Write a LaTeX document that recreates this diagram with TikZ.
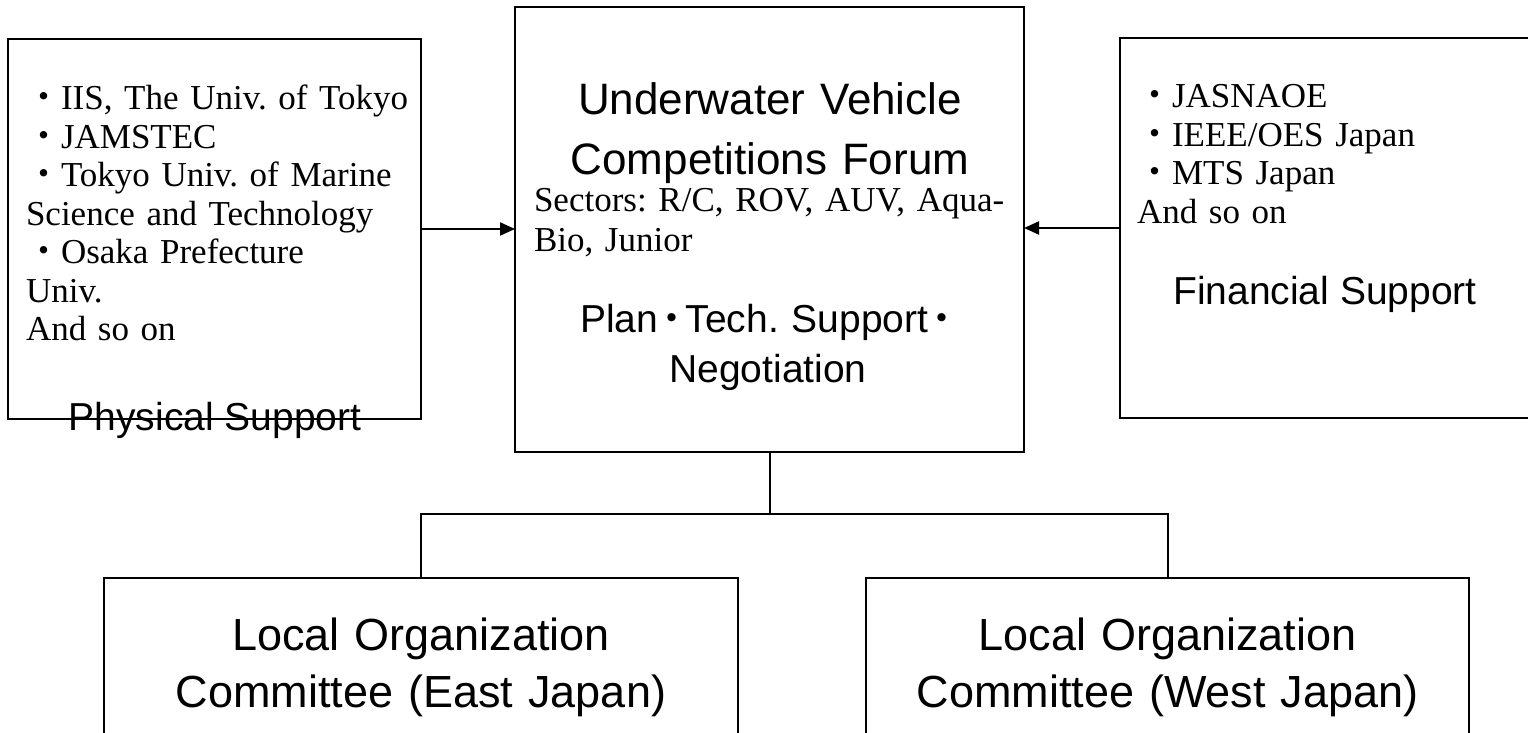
\documentclass[tikz,border=0pt]{standalone}
\usepackage{fontspec}
\setmainfont{Liberation Serif}
\setsansfont{Liberation Sans}
\newfontfamily\jpfont{Noto Sans CJK JP}
\usepackage{tikz}
\usetikzlibrary{arrows.meta}
\usetikzlibrary{positioning}
\usetikzlibrary{calc}
\frenchspacing

\newcommand{\jdot}{{\jpfont ・}}
\newcommand{\sdot}{{\jpfont\kern-0.15em ・\kern-0.15em}}

\begin{document}
\begin{tikzpicture}[x=0.5pt,y=-0.5pt]
    \useasboundingbox (0,0) rectangle (1528,733);
    \clip (0,0) rectangle (1528,733);
    \begin{scope}[every node/.style={draw,line width=1pt,inner sep=0pt,outer sep=0pt}]
    \node[minimum width=206.5pt,minimum height=190pt] (phys) at (214.5,229) {};
    \node[minimum width=254.5pt,minimum height=222.5pt] (forum) at (769.5,229.5) {};
    \node[minimum width=210pt,minimum height=190pt] (fin) at (1330,228) {};
    \node[minimum width=317pt,minimum height=111pt] (east) at (421,689) {};
    \node[minimum width=301.5pt,minimum height=111pt] (west) at (1167.5,689) {};
    \end{scope}
    \begin{scope}[every node/.style={inner sep=0pt,outer sep=0pt}]
    \node[anchor=base west,text width=200pt,align=left,font=\fontsize{17.5}{19.25}\selectfont] (physlist) at (26,110)
        {\jdot IIS, The Univ. of Tokyo\\ \jdot JAMSTEC\\ \jdot Tokyo Univ. of Marine\\ Science and Technology\\ \jdot Osaka Prefecture\\ Univ.\\ And so on};
    \node[anchor=base,font=\sffamily\fontsize{19.5}{23}\selectfont] (physlabel) at (215,430) {Physical Support};
    \node[anchor=base west,text width=200pt,align=left,font=\fontsize{17.5}{19.25}\selectfont] (finlist) at (1137,108)
        {\jdot JASNAOE\\ \jdot IEEE/OES Japan\\ \jdot MTS Japan\\ And so on};
    \node[anchor=base,font=\sffamily\fontsize{19.5}{23}\selectfont] (finlabel) at (1325,305) {Financial Support};
    \node[anchor=base,text width=250pt,align=center,font=\sffamily\fontsize{22}{30}\selectfont] (title) at (770,115)
        {Underwater Vehicle\\ Competitions Forum};
    \node[anchor=base west,text width=240pt,align=left,font=\fontsize{17.5}{20}\selectfont] (sectors) at (534,212)
        {Sectors: R/C, ROV, AUV, Aqua-\\ Bio, Junior};
    \node[anchor=base,text width=250pt,align=center,font=\sffamily\fontsize{19.5}{25}\selectfont] (tasks) at (768,332)
        {Plan\sdot Tech. Support\sdot\\ Negotiation};
    \node[anchor=base,text width=310pt,align=center,font=\sffamily\fontsize{22.5}{28.5}\selectfont] (eastlabel) at (421,650)
        {Local Organization\\ Committee (East Japan)};
    \node[anchor=base,text width=300pt,align=center,font=\sffamily\fontsize{22.5}{28.5}\selectfont] (westlabel) at (1167.5,650)
        {Local Organization\\ Committee (West Japan)};
    \end{scope}
    \coordinate (bus) at (forum.south |- 0,514);
    \begin{scope}[every edge/.style={draw=black,line width=1pt}]
    \path (phys.east) edge[-{Triangle[length=7.5pt,width=6.5pt]}] (phys.east -| forum.west);
    \path (fin.west) edge[-{Triangle[length=7.5pt,width=6.5pt]}] (fin.west -| forum.east);
    \path (forum.south) edge (bus);
    \end{scope}
    \draw[line width=1pt] (east.north) |- (bus);
    \draw[line width=1pt] (west.north) |- (bus);
\end{tikzpicture}
\end{document}
